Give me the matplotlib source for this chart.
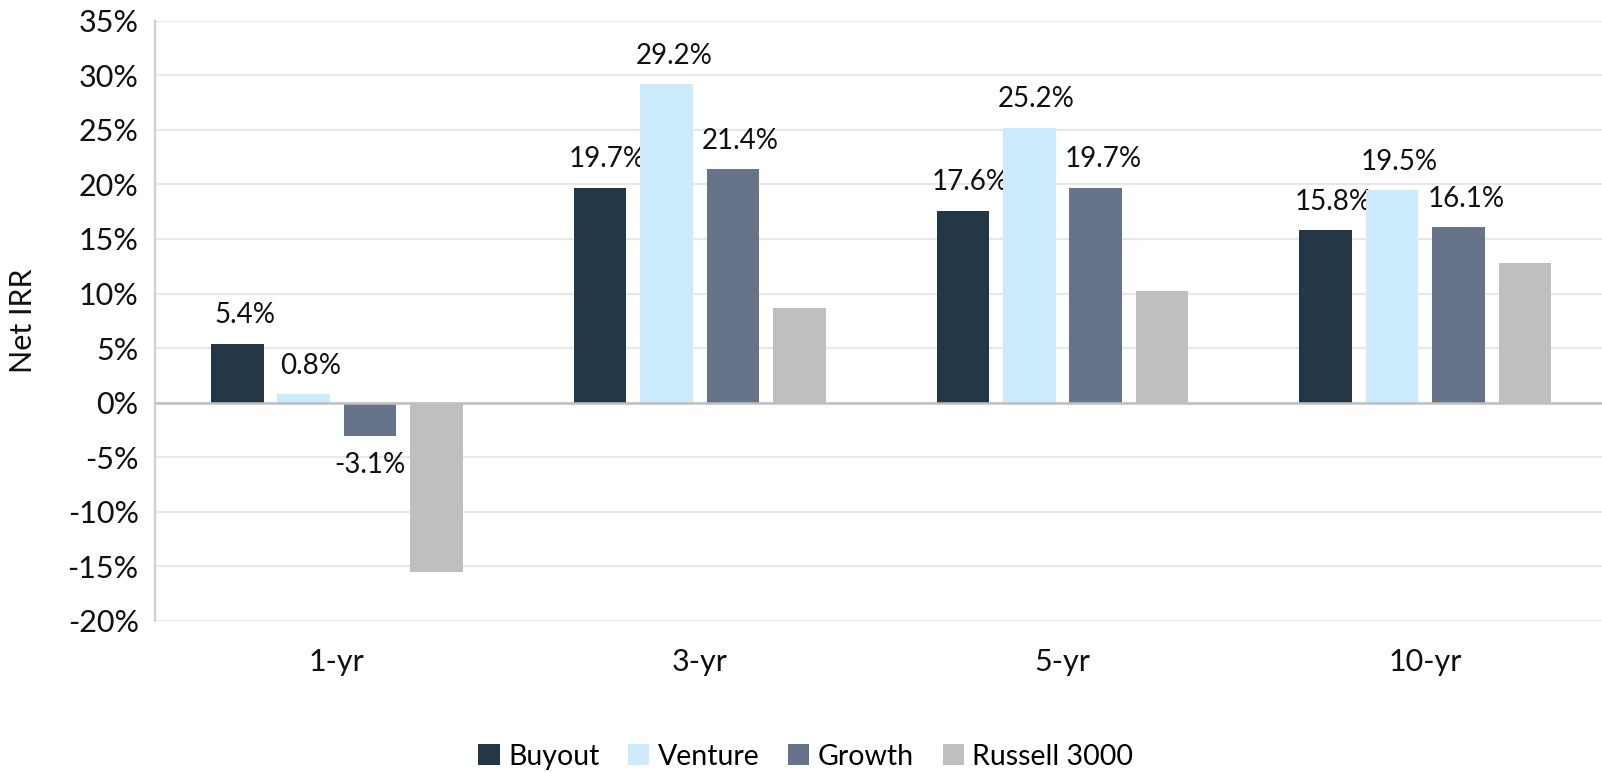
import numpy as np
import matplotlib
matplotlib.use("Agg")
import matplotlib.pyplot as plt
from matplotlib.ticker import FuncFormatter

plt.rcParams['font.family'] = ['Lato', 'DejaVu Sans']

periods = ["1-yr", "3-yr", "5-yr", "10-yr"]
series = ["Buyout", "Venture", "Growth", "Russell 3000"]
buyout = [5.4, 19.7, 17.6, 15.8]
venture = [0.8, 29.2, 25.2, 19.5]
growth = [-3.1, 21.4, 19.7, 16.1]
russell = [-15.5, 8.7, 10.2, 12.8]
labelled = [True, True, True, False]

colors = ["#243746", "#CCEBFC", "#667389", "#BFBFBF"]

fig = plt.figure(figsize=(16.02, 7.72), dpi=100)
ax = fig.add_axes([0.097, 0.196, 0.906, 0.777])

x = np.arange(len(periods))
step = 0.183
width = 0.145
values = [buyout, venture, growth, russell]

for i, (name, vals, col) in enumerate(zip(series, values, colors)):
    pos = x + (i - 1.5) * step
    ax.bar(pos, vals, width=width, color=col, label=name, zorder=3)
    if labelled[i]:
        for px, v in zip(pos, vals):
            if v >= 0:
                ax.text(px + 0.02, v + 1.4, f"{v:.1f}%", ha="center", va="bottom",
                        fontsize=20, color="#111111")
            else:
                ax.text(px, v - 1.4, f"{v:.1f}%", ha="center", va="top",
                        fontsize=20, color="#111111")

ax.set_xlim(-0.5, 3.5)
ax.set_ylim(-20, 35)
ax.set_yticks(np.arange(-20, 36, 5))
ax.yaxis.set_major_formatter(FuncFormatter(lambda v, p: f"{v:.0f}%"))
ax.set_xticks(x)
ax.set_xticklabels(periods)
ax.tick_params(axis="both", length=0, labelsize=22, colors="#111111")
ax.tick_params(axis="x", pad=20)
ax.tick_params(axis="y", pad=12)

ax.grid(axis="y", color="#E8E8E8", linewidth=1.6, zorder=0)
ax.axhline(0, color="#BFBFBF", linewidth=1.8, zorder=4)
for s in ["top", "right", "bottom"]:
    ax.spines[s].set_visible(False)
ax.spines["left"].set_color("#D0D0D0")
ax.spines["left"].set_linewidth(1.6)

ax.set_ylabel("Net IRR", fontsize=22, color="#111111", labelpad=22)

fig.legend(loc="lower center", bbox_to_anchor=(0.503, -0.03), ncol=4, frameon=False,
           fontsize=20.5, handlelength=0.75, handleheight=0.75, handletextpad=0.3,
           columnspacing=1.0)

fig.savefig("out.png", dpi=100)
